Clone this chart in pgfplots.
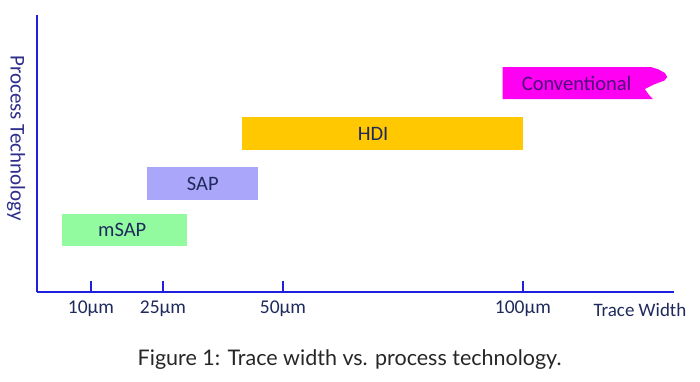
\documentclass[border=0pt]{standalone}
\usepackage{pgfplots}
\pgfplotsset{compat=1.18}
\usepackage{fontspec}
\setmainfont{Carlito}
\newfontfamily\capfont{Lato}
\definecolor{axblue}{HTML}{1F1FE0}
\definecolor{navy}{HTML}{1F2A5C}
\definecolor{ylab}{HTML}{2E2E8C}
\definecolor{cmsap}{HTML}{92FB9F}
\definecolor{csap}{HTML}{AAA6FA}
\definecolor{chdi}{HTML}{FFC800}
\definecolor{cconv}{HTML}{FF00F2}
\definecolor{convtext}{HTML}{4A0A7A}
\begin{document}
\begin{tikzpicture}
\useasboundingbox (-37pt,-89pt) rectangle (663pt,292pt);
\begin{axis}[
  scale only axis, width=637pt, height=277pt,
  xmin=-1.25, xmax=131.5, ymin=0, ymax=277,
  axis lines=left,
  axis line style={-, axblue, line width=2.6pt},
  xtick={10,25,50,100},
  xticklabels={10µm,25µm,50µm,100µm},
  ytick=\empty,
  tick align=inside,
  major tick length=11pt,
  tick style={axblue, line width=1.6pt},
  x tick label style={font=\fontsize{19.5}{22}\selectfont, text=navy, yshift=-5pt},
  clip=false,
]
\addplot[fill=cmsap, draw=none] coordinates {(4,46) (30,46) (30,78) (4,78)} -- cycle;
\addplot[fill=csap, draw=none] coordinates {(21.7,92) (44.8,92) (44.8,125) (21.7,125)} -- cycle;
\addplot[fill=chdi, draw=none] coordinates {(41.5,142) (100,142) (100,175) (41.5,175)} -- cycle;
\addplot[fill=cconv, draw=none] coordinates {(95.8,193) (127.1,193) (126.3,197) (125.4,203) (127.3,207.5) (129.5,211.5) (130.1,215) (129.6,219) (128.3,222.5) (126.7,225) (95.8,225)} -- cycle;
\node[font=\fontsize{20.5}{24}\selectfont, text=navy] at (axis cs:16.5,62) {mSAP};
\node[font=\fontsize{20.5}{24}\selectfont, text=navy] at (axis cs:33.3,108.5) {SAP};
\node[font=\fontsize{20.5}{24}\selectfont, text=navy] at (axis cs:68.8,158.5) {HDI};
\node[font=\fontsize{20.5}{24}\selectfont, text=convtext] at (axis cs:111.2,209) {Conventional};
\node[font=\fontsize{19}{22}\selectfont, text=navy] at (axis cs:124.4,-18) {Trace Width};
\node[font=\fontsize{21}{24}\selectfont, text=ylab, rotate=-90] at (axis cs:-5.6,154) {Process Technology};
\node[font=\capfont\fontsize{21.5}{25}\selectfont, text=black!85] at (axis cs:63.9,-68) {Figure 1: Trace width vs. process technology.};
\end{axis}
\end{tikzpicture}
\end{document}
